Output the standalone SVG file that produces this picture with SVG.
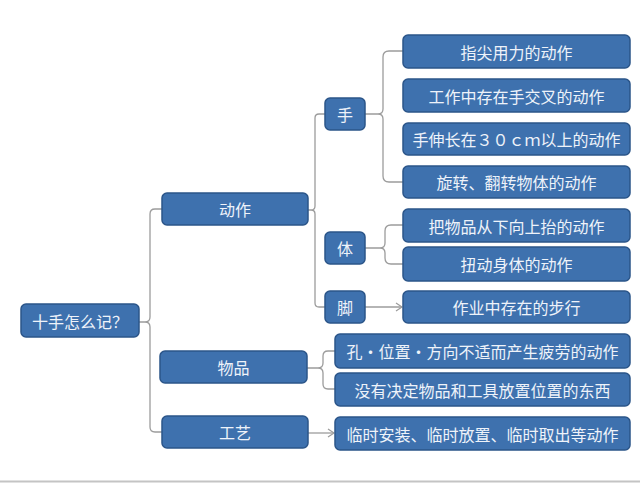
<svg xmlns="http://www.w3.org/2000/svg" width="640" height="483" viewBox="0 0 640 483">
<defs>
<style>
.n rect{fill:#3e71ae;stroke:#2b5589;stroke-width:1.5}
.n text{fill:#eef3fa;font-family:"Noto Sans CJK SC","Microsoft YaHei",sans-serif;font-size:16px;text-anchor:middle;dominant-baseline:central}
.c path{fill:none;stroke:#9c9c9c;stroke-width:1.3}
</style>
<marker id="ah" markerWidth="10" markerHeight="10" refX="8" refY="5" orient="auto" markerUnits="userSpaceOnUse">
<path d="M2,1 L8,5 L2,9" fill="none" stroke="#9c9c9c" stroke-width="1.2"/>
</marker>
</defs>
<rect width="640" height="483" fill="#ffffff"/>
<line x1="0" y1="481.5" x2="640" y2="481.5" stroke="#c4c4c4" stroke-width="2"/>
<g class="c" id="connectors">
<path d="M139,322 H145 M162,209 H155 Q150,209 150,214 V317 Q150,322 145,322 Q150,322 150,327 V427 Q150,432 155,432 H162"/>
<path d="M308,210 H311 M325,114 H319 Q315,114 315,118 V206 Q315,210 311,210 Q315,210 315,214 V303 Q315,307 319,307 H325"/>
<path d="M365,114 H378 M403,51 H389 Q383,51 383,57 V109 Q383,114 378,114 Q383,114 383,119 V176 Q383,182 389,182 H403"/>
<path d="M365,248 H380 M403,225 H391 Q385,225 385,231 V243 Q385,248 380,248 Q385,248 385,253 V258 Q385,264 391,264 H403"/>
<path d="M365,307 H402" marker-end="url(#ah)"/>
<path d="M307,368 H318 M335,351 H328 Q323,351 323,356 V363 Q323,368 318,368 Q323,368 323,373 V384 Q323,389 328,389 H335"/>
<path d="M308,433 H334" marker-end="url(#ah)"/>
</g>
<g class="n" id="root"><rect x="21" y="304" width="118" height="33" rx="5"/><text x="80" y="320.5">十手怎么记？</text></g>
<g class="n" id="dongzuo"><rect x="162" y="193" width="146" height="32" rx="5"/><text x="235" y="209">动作</text></g>
<g class="n" id="wupin"><rect x="160" y="351" width="147" height="32" rx="5"/><text x="233.5" y="367">物品</text></g>
<g class="n" id="gongyi"><rect x="162" y="416" width="146" height="32" rx="5"/><text x="235" y="432">工艺</text></g>
<g class="n" id="shou"><rect x="325" y="98" width="40" height="32" rx="5"/><text x="345" y="114">手</text></g>
<g class="n" id="ti"><rect x="325" y="232" width="40" height="32" rx="5"/><text x="345" y="248">体</text></g>
<g class="n" id="jiao"><rect x="325" y="291" width="40" height="32" rx="5"/><text x="345" y="307">脚</text></g>
<g class="n" id="s1"><rect x="403" y="35" width="227" height="33" rx="5"/><text x="516.5" y="51.5">指尖用力的动作</text></g>
<g class="n" id="s2"><rect x="403" y="79" width="227" height="33" rx="5"/><text x="516.5" y="95.5">工作中存在手交叉的动作</text></g>
<g class="n" id="s3"><rect x="403" y="123" width="227" height="32" rx="5"/><text x="516.5" y="139">手伸长在３０ｃｍ以上的动作</text></g>
<g class="n" id="s4"><rect x="403" y="166" width="227" height="32" rx="5"/><text x="516.5" y="182">旋转、翻转物体的动作</text></g>
<g class="n" id="t1"><rect x="403" y="209" width="227" height="33" rx="5"/><text x="516.5" y="225.5">把物品从下向上抬的动作</text></g>
<g class="n" id="t2"><rect x="403" y="247" width="227" height="34" rx="5"/><text x="516.5" y="264">扭动身体的动作</text></g>
<g class="n" id="j1"><rect x="403" y="291" width="227" height="32" rx="5"/><text x="516.5" y="307">作业中存在的步行</text></g>
<g class="n" id="w1"><rect x="335" y="334" width="295" height="34" rx="5"/><text x="482.5" y="351">孔・位置・方向不适而产生疲劳的动作</text></g>
<g class="n" id="w2"><rect x="335" y="373" width="295" height="33" rx="5"/><text x="482.5" y="389.5">没有决定物品和工具放置位置的东西</text></g>
<g class="n" id="g1"><rect x="335" y="417" width="295" height="33" rx="5"/><text x="482.5" y="433.5">临时安装、临时放置、临时取出等动作</text></g>
</svg>
